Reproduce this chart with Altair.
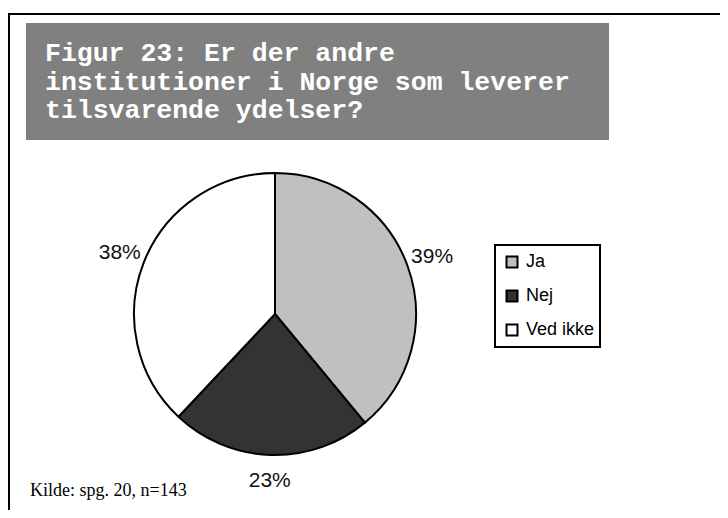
import altair as alt
import pandas as pd

# ---- data ----
categories = ["Ja", "Nej", "Ved ikke"]
shares = [39, 23, 38]
slice_colors = ["#c0c0c0", "#333333", "#ffffff"]
title_lines = [
    "Figur 23: Er der andre",
    "institutioner i Norge som leverer",
    "tilsvarende ydelser?",
]
source_text = "Kilde: spg. 20, n=143"

pie_df = pd.DataFrame({
    "category": categories,
    "share": shares,
    "order": list(range(len(categories))),
    "label": [f"{v}%" for v in shares],
})

one = alt.Data(values=[{}])

W, H = 712, 502
CX, CY, R = 267, 306, 141

frame = alt.Chart(one).mark_rect(fillOpacity=0, stroke="black", strokeWidth=2).encode(
    x=alt.value(1), x2=alt.value(760), y=alt.value(6), y2=alt.value(560)
)

title_box = alt.Chart(one).mark_rect(fill="#808080").encode(
    x=alt.value(18), x2=alt.value(601), y=alt.value(15), y2=alt.value(132)
)

title_text = alt.Chart(one).mark_text(
    align="left", baseline="alphabetic",
    font="Courier New, Nimbus Mono PS, FreeMono, Liberation Mono", fontWeight="bold",
    fontSize=26.5, lineHeight=28.5, color="white", text=title_lines
).encode(x=alt.value(37), y=alt.value(53))

pie = alt.Chart(pie_df).mark_arc(outerRadius=R, stroke="black", strokeWidth=2).encode(
    theta=alt.Theta("share:Q", stack=True),
    color=alt.Color(
        "category:N",
        scale=alt.Scale(domain=categories, range=slice_colors),
        legend=alt.Legend(
            orient="none", legendX=495, legendY=245, title=None,
            symbolType="square", symbolSize=121, symbolStrokeColor="black",
            symbolStrokeWidth=2, symbolOpacity=1,
            labelFontSize=18, labelFont="Liberation Sans", labelColor="black",
            rowPadding=14, labelOffset=5, padding=0,
        ),
    ),
    order=alt.Order("order:Q"),
    x=alt.value(CX), y=alt.value(CY),
)

pct = alt.Chart(pie_df).mark_text(
    radius=167, font="Liberation Sans Narrow, Liberation Sans", fontSize=21,
    color="#111", baseline="middle", align="center"
).encode(
    theta=alt.Theta("share:Q", stack=True),
    text="label:N",
    order=alt.Order("order:Q"),
    x=alt.value(CX), y=alt.value(CY),
)

legend_box = alt.Chart(one).mark_rect(fill="white", stroke="black", strokeWidth=2).encode(
    x=alt.value(487), x2=alt.value(592), y=alt.value(237), y2=alt.value(339)
)

source = alt.Chart(one).mark_text(
    align="left", baseline="alphabetic", font="Liberation Serif", fontSize=18,
    color="black", text=source_text
).encode(x=alt.value(22), y=alt.value(488))

chart = alt.layer(
    frame, title_box, title_text, legend_box, pie, pct, source
).properties(
    width=W, height=H, padding=0, autosize=alt.AutoSizeParams(type="none")
).configure_view(stroke=None)

chart.save("out.html", embed_options={"renderer": "svg", "actions": False})
